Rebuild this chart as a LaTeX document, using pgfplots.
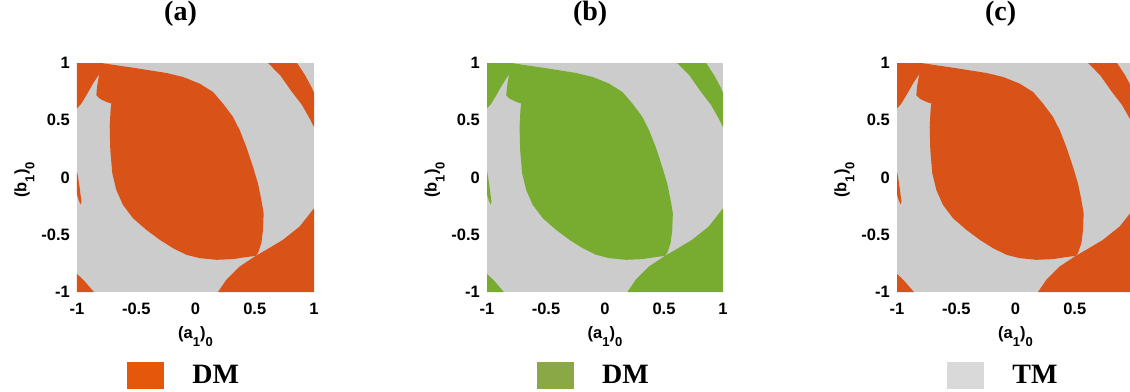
\documentclass[border=0pt]{standalone}
\usepackage{pgfplots}
\pgfplotsset{compat=1.18}
\usepackage{pgfplotstable}
\usepackage{fontspec}
\setmainfont{Liberation Sans}
\newfontfamily\serifb{Liberation Serif}

\definecolor{dmorange}{HTML}{D95319}
\definecolor{dmgreen}{HTML}{77AC30}
\definecolor{tmgrey}{HTML}{CCCCCC}
\definecolor{legorange}{HTML}{E5570B}
\definecolor{leggreen}{HTML}{8AA946}
\definecolor{leggrey}{HTML}{D9D9D9}

% main leaf-shaped region joined to the top-left corner
\pgfplotstableread{
x y
-1 1
-0.795 1
-0.668 0.980
-0.527 0.959
-0.387 0.936
-0.246 0.913
-0.105 0.878
0.035 0.820
0.148 0.747
0.232 0.646
0.316 0.530
0.373 0.414
0.429 0.268
0.485 0.094
0.527 -0.051
0.556 -0.196
0.575 -0.312
0.570 -0.457
0.556 -0.573
0.527 -0.661
0.508 -0.684
0.429 -0.695
0.316 -0.713
0.176 -0.719
0.035 -0.704
-0.077 -0.675
-0.190 -0.617
-0.302 -0.544
-0.415 -0.457
-0.527 -0.356
-0.612 -0.240
-0.668 -0.109
-0.702 0.036
-0.719 0.239
-0.724 0.443
-0.716 0.602
-0.710 0.646
-0.752 0.660
-0.809 0.689
-0.837 0.718
-0.831 0.791
-0.817 0.878
-0.809 0.907
-0.865 0.820
-0.921 0.718
-0.963 0.646
-1 0.602
}\leaf

% top-right band
\pgfplotstableread{
x y
0.612 1
0.857 1
0.924 0.895
0.983 0.782
1 0.740
1 0.440
0.966 0.510
0.899 0.633
0.814 0.747
0.713 0.895
}\band

% bottom-right region
\pgfplotstableread{
x y
1 -0.269
0.879 -0.428
0.738 -0.544
0.598 -0.631
0.508 -0.684
0.373 -0.777
0.260 -0.893
0.190 -1
1 -1
}\brcorner

% bottom-left corner
\pgfplotstableread{
x y
-1 -0.841
-0.935 -0.907
-0.857 -1
-1 -1
}\blcorner

% thin sliver on the left edge
\pgfplotstableread{
x y
-1 0.050
-0.990 0.000
-0.980 -0.070
-0.970 -0.150
-0.962 -0.210
-0.970 -0.235
-0.985 -0.200
-1 -0.150
}\sliver

% full square (background)
\pgfplotstableread{
x y
-1 -1
1 -1
1 1
-1 1
}\square

\newcommand{\sub}[1]{\raisebox{-8pt}{\fontsize{13}{13}\selectfont\bfseries #1}}

\pgfplotsset{
  panel/.style={
    scale only axis, width=237pt, height=229pt,
    anchor=north west,
    xmin=-1, xmax=1, ymin=-1, ymax=1,
    axis line style={draw=none},
    major tick length=0pt,
    xtick={-1,-0.5,0,0.5,1}, ytick={-1,-0.5,0,0.5,1},
    xticklabels={-1,-0.5,0,0.5,1}, yticklabels={-1,-0.5,0,0.5,1},
    ticklabel style={font=\fontsize{16.5}{16.5}\selectfont\bfseries},
    xticklabel style={anchor=north, inner sep=0pt, yshift=-11pt},
    yticklabel style={anchor=east, inner sep=0pt, xshift=-7pt},
    xlabel={(a\sub{1})\sub{0}},
    ylabel={(b\sub{1})\sub{0}},
    label style={font=\fontsize{16.5}{16.5}\selectfont\bfseries, inner sep=0pt},
    xlabel style={at={(axis description cs:0.5,-0.205)}, anchor=base},
    ylabel style={at={(axis description cs:-0.2215,0.489)}, anchor=center},
    title style={at={(axis description cs:0.437,1.188)}, anchor=center, inner sep=0pt,
      font=\fontsize{28}{28}\selectfont\serifb\bfseries},
    legend cell align=left,
    legend style={at={(axis description cs:0.211,-0.3624)}, anchor=west,
      draw=none, fill=none, inner sep=0pt, outer sep=0pt,
      nodes={inner sep=0pt},
      /tikz/every odd column/.append style={column sep=29pt},
      font=\fontsize{28}{28}\selectfont\serifb\bfseries},
  },
}

\begin{document}
\begin{tikzpicture}
% ---------- (a)
\begin{axis}[panel, at={(77pt,-63pt)}, title={(a)}]
\addlegendimage{legend image code/.code={\fill[legorange] (0pt,-13pt) rectangle (36pt,13pt);}}
\addlegendentry{DM}
\addplot[fill=tmgrey, draw=none, forget plot] table {\square} -- cycle;
\addplot[fill=dmorange, draw=none, forget plot] table {\leaf} -- cycle;
\addplot[fill=dmorange, draw=none, forget plot] table {\band} -- cycle;
\addplot[fill=dmorange, draw=none, forget plot] table {\brcorner} -- cycle;
\addplot[fill=dmorange, draw=none, forget plot] table {\blcorner} -- cycle;
\addplot[fill=dmorange, draw=none, forget plot] table {\sliver} -- cycle;
\end{axis}
% ---------- (b)
\begin{axis}[panel, at={(487pt,-63pt)}, width=236pt, title={(b)}]
\addlegendimage{legend image code/.code={\fill[leggreen] (0pt,-13pt) rectangle (36pt,13pt);}}
\addlegendentry{DM}
\addplot[fill=tmgrey, draw=none, forget plot] table {\square} -- cycle;
\addplot[fill=dmgreen, draw=none, forget plot] table {\leaf} -- cycle;
\addplot[fill=dmgreen, draw=none, forget plot] table {\band} -- cycle;
\addplot[fill=dmgreen, draw=none, forget plot] table {\brcorner} -- cycle;
\addplot[fill=dmgreen, draw=none, forget plot] table {\blcorner} -- cycle;
\addplot[fill=dmgreen, draw=none, forget plot] table {\sliver} -- cycle;
\end{axis}
% ---------- (c)
\begin{axis}[panel, at={(897pt,-63pt)}, title={(c)}]
\addlegendimage{legend image code/.code={\fill[leggrey] (0pt,-13pt) rectangle (36pt,13pt);}}
\addlegendentry{TM}
\addplot[fill=tmgrey, draw=none, forget plot] table {\square} -- cycle;
\addplot[fill=dmorange, draw=none, forget plot] table {\leaf} -- cycle;
\addplot[fill=dmorange, draw=none, forget plot] table {\band} -- cycle;
\addplot[fill=dmorange, draw=none, forget plot] table {\brcorner} -- cycle;
\addplot[fill=dmorange, draw=none, forget plot] table {\blcorner} -- cycle;
\addplot[fill=dmorange, draw=none, forget plot] table {\sliver} -- cycle;
\end{axis}
\pgfresetboundingbox
\path[use as bounding box] (0pt,0pt) rectangle (1130pt,-391pt);
\end{tikzpicture}
\end{document}
